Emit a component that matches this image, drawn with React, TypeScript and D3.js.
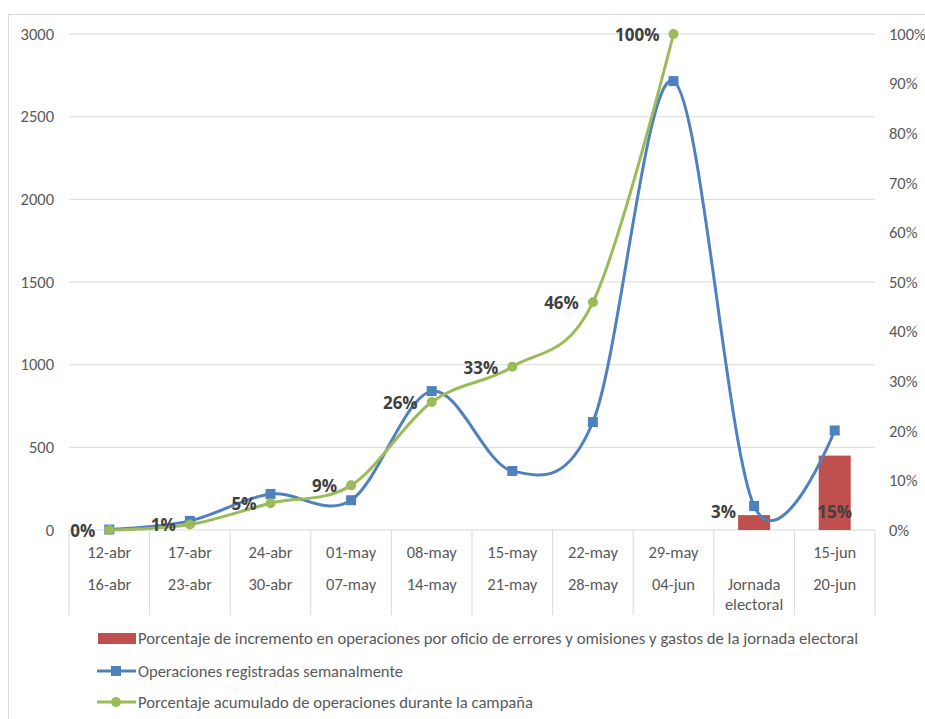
import React from "react";
import * as d3 from "d3";

const categoriesTop = ["12-abr", "17-abr", "24-abr", "01-may", "08-may", "15-may", "22-may", "29-may", "", "15-jun"];
const categoriesBottom = [["16-abr"], ["23-abr"], ["30-abr"], ["07-may"], ["14-may"], ["21-may"], ["28-may"], ["04-jun"], ["Jornada", "electoral"], ["20-jun"]];

// Operaciones registradas semanalmente (left axis)
const weeklyOps = [3, 55, 218, 180, 840, 357, 653, 2715, 145, 602];
// Porcentaje acumulado (right axis), only first 8 categories
const cumulativePct = [0, 0.011, 0.054, 0.09, 0.258, 0.329, 0.459, 1.0];
const cumulativeLabels = ["0%", "1%", "5%", "9%", "26%", "33%", "46%", "100%"];
// Porcentaje de incremento (bars, right axis)
const barPct = [null, null, null, null, null, null, null, null, 0.03, 0.15];
const barLabels = ["", "", "", "", "", "", "", "", "3%", "15%"];
const barLabelPlacement = ["", "", "", "", "", "", "", "", "left", "center"];

const leftTicks = [0, 500, 1000, 1500, 2000, 2500, 3000];
const rightTicks = [0, 0.1, 0.2, 0.3, 0.4, 0.5, 0.6, 0.7, 0.8, 0.9, 1.0];

const legendItems = [
  "Porcentaje de incremento en operaciones por oficio de errores y omisiones y gastos de la jornada electoral",
  "Operaciones registradas semanalmente",
  "Porcentaje acumulado de operaciones durante la campaña",
];

const BLUE = "#4F81BD";
const GREEN = "#9BBB59";
const RED = "#C0504D";
const TXT = "#595959";
const LBL = "#404040";
const FONT = "Carlito, Calibri, 'Open Sans', sans-serif";
const BOLD_FONT = "'Open Sans', 'DejaVu Sans', sans-serif";
const FS = 16.5;

export default function App() {
  const W = 925, H = 719;
  const plotL = 69, plotR = 875, plotT = 34, plotB = 530;

  const idx = d3.range(categoriesTop.length);
  const xBand = d3.scaleBand<number>().domain(idx).range([plotL, plotR]).padding(0);
  const xc = (i: number) => (xBand(i) as number) + xBand.bandwidth() / 2;
  const yL = d3.scaleLinear().domain([0, 3000]).range([plotB, plotT]);
  const yR = d3.scaleLinear().domain([0, 1]).range([plotB, plotT]);

  const smooth = d3.curveCardinal.tension(0);
  const blueLine = d3.line<number>().x((_, i) => xc(i)).y((d) => yL(d)).curve(smooth)(weeklyOps) || "";
  const greenLine = d3.line<number>().x((_, i) => xc(i)).y((d) => yR(d)).curve(smooth)(cumulativePct) || "";

  const barW = 32;
  const catBounds = d3.range(categoriesTop.length + 1).map((i) => plotL + i * xBand.bandwidth());

  return (
    <svg width={W} height={H} style={{ position: "absolute", left: 0, top: 0, background: "#fff" }}>
      <rect x={8.5} y={14.5} width={W + 20} height={H + 20} fill="#fff" stroke="#d9d9d9" strokeWidth={1} />
      {leftTicks.map((t) => (
        <line key={t} x1={plotL} x2={plotR} y1={yL(t)} y2={yL(t)} stroke="#d9d9d9" strokeWidth={1} />
      ))}
      {leftTicks.map((t) => (
        <text key={"l" + t} x={54} y={yL(t)} dy="0.35em" textAnchor="end" fontFamily={FONT} fontSize={FS} fill={TXT}>
          {t}
        </text>
      ))}
      {rightTicks.map((t) => (
        <text key={"r" + t} x={889} y={yR(t)} dy="0.35em" textAnchor="start" fontFamily={FONT} fontSize={FS} fill={TXT}>
          {d3.format(".0%")(t)}
        </text>
      ))}
      {catBounds.map((x, i) => (
        <line key={"s" + i} x1={x} x2={x} y1={plotB} y2={615} stroke="#d9d9d9" strokeWidth={1} />
      ))}
      {categoriesTop.map((c, i) => (
        <text key={"ct" + i} x={xc(i)} y={552} dy="0.35em" textAnchor="middle" fontFamily={FONT} fontSize={FS} fill={TXT}>
          {c}
        </text>
      ))}
      {categoriesBottom.map((lines, i) =>
        lines.map((c, j) => (
          <text key={"cb" + i + "-" + j} x={xc(i)} y={584 + j * 20} dy="0.35em" textAnchor="middle" fontFamily={FONT} fontSize={FS} fill={TXT}>
            {c}
          </text>
        ))
      )}
      {barPct.map((v, i) =>
        v == null ? null : (
          <rect key={"b" + i} x={xc(i) - barW / 2} y={yR(v)} width={barW} height={plotB - yR(v)} fill={RED} />
        )
      )}
      <path d={blueLine} fill="none" stroke={BLUE} strokeWidth={3} />
      <path d={greenLine} fill="none" stroke={GREEN} strokeWidth={3} />
      {weeklyOps.map((v, i) => (
        <rect key={"bm" + i} x={xc(i) - 5} y={yL(v) - 5} width={10} height={10} fill={BLUE} />
      ))}
      {cumulativePct.map((v, i) => (
        <circle key={"gm" + i} cx={xc(i)} cy={yR(v)} r={5} fill={GREEN} />
      ))}
      {cumulativePct.map((v, i) => (
        <text key={"gl" + i} x={xc(i) - 14} y={yR(v) + 1} dy="0.35em" textAnchor="end" fontFamily={BOLD_FONT} fontWeight="bold" fontSize={17} fill={LBL}>
          {cumulativeLabels[i]}
        </text>
      ))}
      {barPct.map((v, i) =>
        v == null ? null : (
          <text
            key={"bl" + i}
            x={barLabelPlacement[i] === "left" ? xc(i) - barW / 2 - 2 : xc(i)}
            y={512}
            dy="0.35em"
            textAnchor={barLabelPlacement[i] === "left" ? "end" : "middle"}
            fontFamily={BOLD_FONT}
            fontWeight="bold"
            fontSize={17}
            fill={LBL}
          >
            {barLabels[i]}
          </text>
        )
      )}
      <g>
        <rect x={98} y={633} width={38} height={11} fill={RED} />
        <line x1={97} x2={136} y1={671} y2={671} stroke={BLUE} strokeWidth={3} />
        <rect x={111} y={666} width={10} height={10} fill={BLUE} />
        <line x1={97} x2={136} y1={702} y2={702} stroke={GREEN} strokeWidth={3} />
        <circle cx={116} cy={702} r={5} fill={GREEN} />
        {legendItems.map((t, i) => (
          <text key={"lg" + i} x={138} y={[638, 671, 702][i]} dy="0.35em" fontFamily={FONT} fontSize={FS} fill={TXT}
            textLength={[720, 265, 395][i]} lengthAdjust="spacingAndGlyphs">
            {t}
          </text>
        ))}
      </g>
    </svg>
  );
}
